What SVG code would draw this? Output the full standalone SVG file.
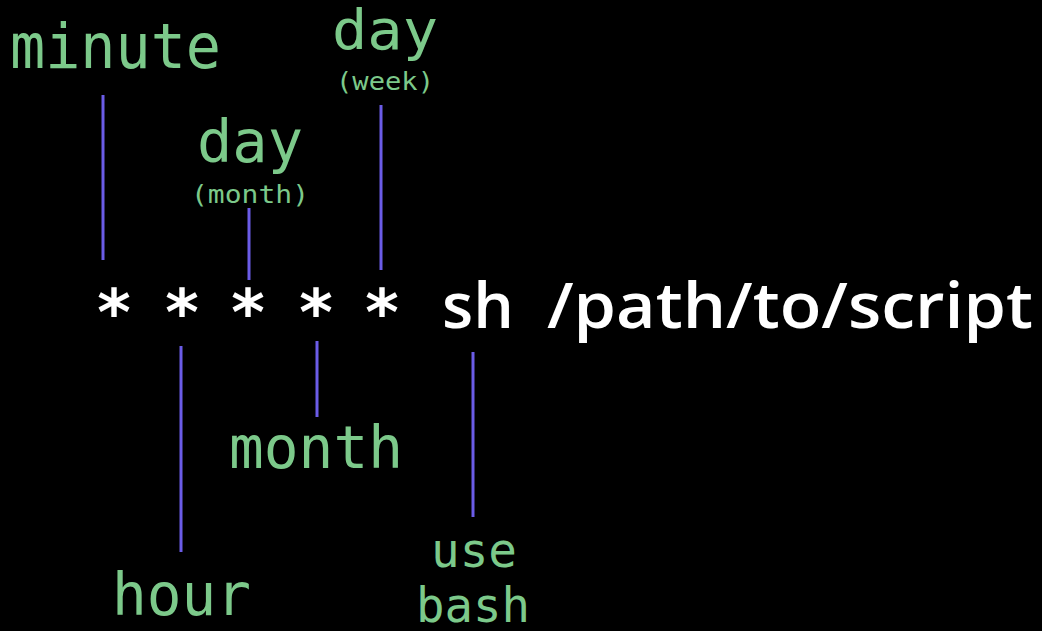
<svg xmlns="http://www.w3.org/2000/svg" width="1042" height="631" viewBox="0 0 1042 631">
<style>
.lbl{font-family:"DejaVu Sans Mono","Liberation Mono",monospace;fill:#7cc98a}
.big{font-size:58px}
.mid{font-size:48px}
.sm{font-size:24px}
.cmd{font-family:"Open Sans","Noto Sans",sans-serif;fill:#ffffff;font-weight:600}
.star{font-family:"DejaVu Sans",sans-serif;fill:#ffffff;font-weight:700;font-size:64px;text-anchor:middle}
.conn line{stroke:#6b5ce7;stroke-width:3}
</style>
<rect width="1042" height="631" fill="#000000"/>
<g id="connectors" class="conn">
<line x1="103" y1="95" x2="103" y2="260"/>
<line x1="381" y1="105" x2="381" y2="270"/>
<line x1="249" y1="208" x2="249" y2="280"/>
<line x1="181" y1="346" x2="181" y2="552"/>
<line x1="317" y1="341" x2="317" y2="417"/>
<line x1="473" y1="352" x2="473" y2="517"/>
</g>
<g id="minute"><text class="lbl" font-size="62" x="10" y="68" textLength="211" lengthAdjust="spacingAndGlyphs">minute</text></g>
<g id="day-week"><text class="lbl" font-size="55" x="332" y="49" textLength="106" lengthAdjust="spacingAndGlyphs">day</text><text class="lbl sm" x="336" y="90" textLength="98" lengthAdjust="spacingAndGlyphs">(week)</text></g>
<g id="day-month"><text class="lbl big" x="197" y="162" textLength="106" lengthAdjust="spacingAndGlyphs">day</text><text class="lbl sm" x="191" y="203" textLength="118" lengthAdjust="spacingAndGlyphs">(month)</text></g>
<g id="month"><text class="lbl big" x="229" y="468" textLength="174" lengthAdjust="spacingAndGlyphs">month</text></g>
<g id="hour"><text class="lbl big" x="112" y="615" textLength="139" lengthAdjust="spacingAndGlyphs">hour</text></g>
<g id="use-bash"><text class="lbl mid" x="431" y="567" textLength="86" lengthAdjust="spacingAndGlyphs">use</text><text class="lbl mid" x="416" y="622" textLength="114" lengthAdjust="spacingAndGlyphs">bash</text></g>
<g id="command">
<text class="star" x="114" y="335">*</text>
<text class="star" x="182" y="335">*</text>
<text class="star" x="248" y="335">*</text>
<text class="star" x="316" y="335">*</text>
<text class="star" x="382" y="335">*</text>
<text class="cmd" x="442" y="328" font-size="64">sh</text>
<text class="cmd" x="547" y="328" font-size="64" textLength="486" lengthAdjust="spacingAndGlyphs">/path/to/script</text>
</g>
</svg>
